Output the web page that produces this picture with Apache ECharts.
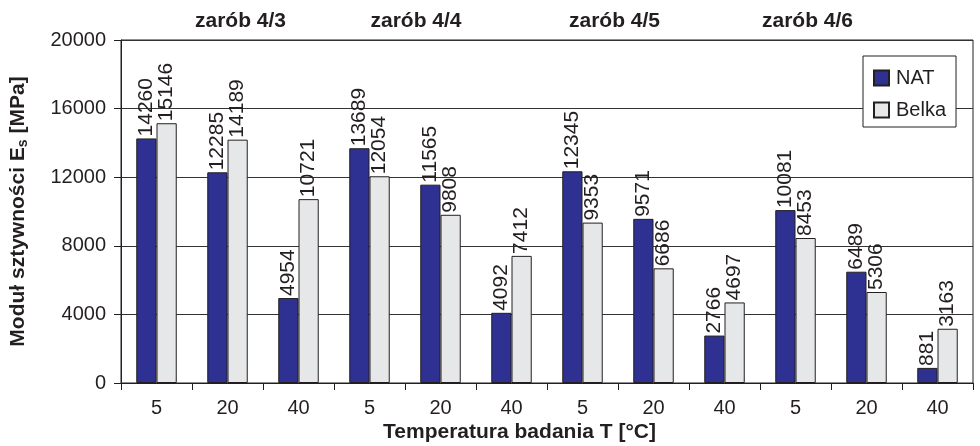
<!DOCTYPE html>
<html>
<head>
<meta charset="utf-8">
<script src="https://cdn.jsdelivr.net/npm/echarts@6/dist/echarts.min.js"></script>
<style>
  html, body { margin: 0; padding: 0; background: #ffffff; }
  #chart { width: 980px; height: 446px; }
</style>
</head>
<body>
<div id="chart"></div>
<script>
// Test temperatures (°C), three per mix
const categories = ['5', '20', '40', '5', '20', '40', '5', '20', '40', '5', '20', '40'];
// Stiffness modulus E_s [MPa]
const natValues   = [14260, 12285, 4954, 13689, 11565, 4092, 12345, 9571, 2766, 10081, 6489, 881];
const belkaValues = [15146, 14189, 10721, 12054, 9808, 7412, 9353, 6686, 4697, 8453, 5306, 3163];
const seriesNames = ['NAT', 'Belka'];
// Mix labels shown above each group of three temperatures
const mixLabels = ['zarób 4/3', 'zarób 4/4', 'zarób 4/5', 'zarób 4/6'];
const yTicks = { min: 0, max: 20000, interval: 4000 };

const FONT = '"Liberation Sans", Arial, Helvetica, sans-serif';
const INK = '#231f20';

const chart = echarts.init(document.getElementById('chart'), null, { renderer: 'canvas' });

const barLabel = {
  show: true,
  position: 'top',
  rotate: 90,
  align: 'left',
  verticalAlign: 'middle',
  distance: 2,
  color: INK,
  fontFamily: FONT,
  fontSize: 21
};

const mixX = [240.5, 416, 614.5, 807.5];

chart.setOption({
  backgroundColor: '#ffffff',
  animation: false,
  grid: {
    left: 120, right: 7, top: 40, bottom: 63,
    show: true, borderColor: INK, borderWidth: 1, backgroundColor: 'transparent'
  },
  legend: {
    data: seriesNames,
    orient: 'vertical',
    left: 863, top: 56,
    width: 97,
    padding: [12, 10, 7, 10],
    itemWidth: 15, itemHeight: 15,
    itemGap: 12,
    backgroundColor: '#ffffff',
    borderColor: INK, borderWidth: 1,
    icon: 'rect',
    textStyle: { color: INK, fontFamily: FONT, fontSize: 20, padding: [0, 0, 0, 2] }
  },
  xAxis: {
    type: 'category',
    data: categories,
    boundaryGap: true,
    axisLine: { lineStyle: { color: INK, width: 1 } },
    axisTick: { show: true, length: 7, inside: false, lineStyle: { color: INK } },
    axisLabel: { color: INK, fontFamily: FONT, fontSize: 20, margin: 15 },
    splitLine: { show: false }
  },
  yAxis: {
    type: 'value',
    min: yTicks.min, max: yTicks.max, interval: yTicks.interval,
    name: 'Moduł sztywności E{sub|s} [MPa]',
    nameLocation: 'middle',
    nameGap: 91,
    nameTextStyle: {
      color: INK, fontFamily: FONT, fontSize: 21, fontWeight: 'bold',
      rich: {
        sub: { fontFamily: FONT, fontSize: 14, fontWeight: 'bold', color: INK, verticalAlign: 'bottom', padding: [9, 0, 0, 0] }
      }
    },
    axisLine: { show: true, lineStyle: { color: INK, width: 1 } },
    axisTick: { show: true, length: 7, lineStyle: { color: INK } },
    axisLabel: {
      color: INK, fontFamily: FONT, fontSize: 20, margin: 15,
      formatter: v => String(v)
    },
    splitLine: { show: true, lineStyle: { color: '#333333', width: 1 } }
  },
  series: [
    {
      name: seriesNames[0],
      type: 'bar',
      data: natValues,
      barGap: '0%',
      barCategoryGap: '43%',
      itemStyle: { color: '#2e3192', borderColor: INK, borderWidth: 1 },
      label: barLabel
    },
    {
      name: seriesNames[1],
      type: 'bar',
      data: belkaValues,
      itemStyle: { color: '#e6e7e8', borderColor: INK, borderWidth: 1 },
      label: barLabel
    }
  ],
  graphic: mixLabels.map((t, i) => ({
    type: 'text',
    x: mixX[i], y: 21,
    style: {
      text: t, fill: INK, font: 'bold 21px ' + FONT,
      textAlign: 'center', textVerticalAlign: 'middle'
    }
  })).concat([{
    type: 'text',
    x: 519.5, y: 432,
    style: {
      text: 'Temperatura badania T [°C]', fill: INK, font: 'bold 21px ' + FONT,
      textAlign: 'center', textVerticalAlign: 'middle'
    }
  }])
});
</script>
</body>
</html>
